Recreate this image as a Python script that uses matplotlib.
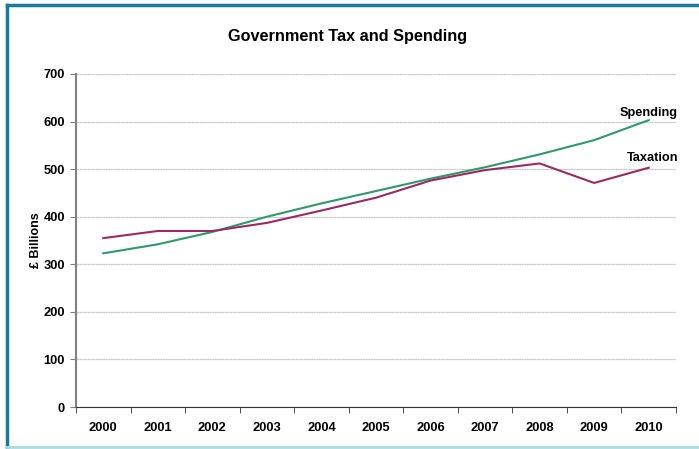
import numpy as np
import matplotlib.pyplot as plt
from matplotlib.lines import Line2D

plt.rcParams['font.family'] = ['Liberation Sans', 'DejaVu Sans']

years = ['2000', '2001', '2002', '2003', '2004', '2005', '2006', '2007', '2008', '2009', '2010']
spending = [323, 342, 368, 400, 428, 454, 480, 504, 531, 561, 603]
taxation = [355, 370, 370, 387, 413, 440, 476, 498, 512, 471, 503]

W, H = 699, 449
fig = plt.figure(figsize=(W / 100, H / 100), dpi=100)
ax = fig.add_axes([76 / W, 1 - 407 / H, 600 / W, 333 / H])

x = np.arange(len(years))
ax.plot(x, spending, color='#2e9a6a', lw=1.5)
ax.plot(x, taxation, color='#9b2a62', lw=1.5)

ax.set_xlim(-0.5, len(years) - 0.5)
ax.set_ylim(0, 700)
ax.set_yticks(range(0, 701, 100))
ax.set_xticks(x)
ax.set_xticklabels(years, fontweight='bold', fontsize=9.3)
ax.set_xticks(np.arange(-0.5, len(years)), minor=True)
ax.tick_params(axis='x', which='major', length=0, pad=11)
ax.tick_params(axis='x', which='minor', length=4, direction='out', color='#333333')
ax.tick_params(axis='y', length=4, color='#808080', pad=4)
for lab in ax.get_yticklabels():
    lab.set_fontweight('bold')
    lab.set_fontsize(9.3)

ax.grid(axis='y', color='#c4c4c4', lw=0.9, ls=(0, (1, 0.3)))
ax.set_axisbelow(True)
for s in ['top', 'right']:
    ax.spines[s].set_visible(False)
ax.spines['left'].set_color('#808080')
ax.spines['left'].set_linewidth(1.5)
ax.spines['bottom'].set_color('#333333')

ax.set_ylabel('£ Billions', fontweight='bold', fontsize=9, labelpad=1)
fig.text(348 / W, 1 - 36 / H, 'Government Tax and Spending',
         ha='center', va='center', fontweight='bold', fontsize=11.7)

ax.annotate('Spending', (x[-1], spending[-1]), xytext=(21, 5), textcoords='offset points',
            ha='right', va='center', fontweight='bold', fontsize=9.2)
ax.annotate('Taxation', (x[-1], taxation[-1]), xytext=(21, 7), textcoords='offset points',
            ha='right', va='center', fontweight='bold', fontsize=9.2)

# frame around the chart
fig.add_artist(Line2D([7 / W, 7 / W], [0, 1 - 5 / H], color='#1a7a99', lw=2.5))
fig.add_artist(Line2D([7 / W, 1], [1 - 5 / H, 1 - 5 / H], color='#1a7a99', lw=2.5))
fig.add_artist(Line2D([7 / W, 1], [2 / H, 2 / H], color='#a8dce0', lw=2))

fig.savefig('out.png', dpi=100)
